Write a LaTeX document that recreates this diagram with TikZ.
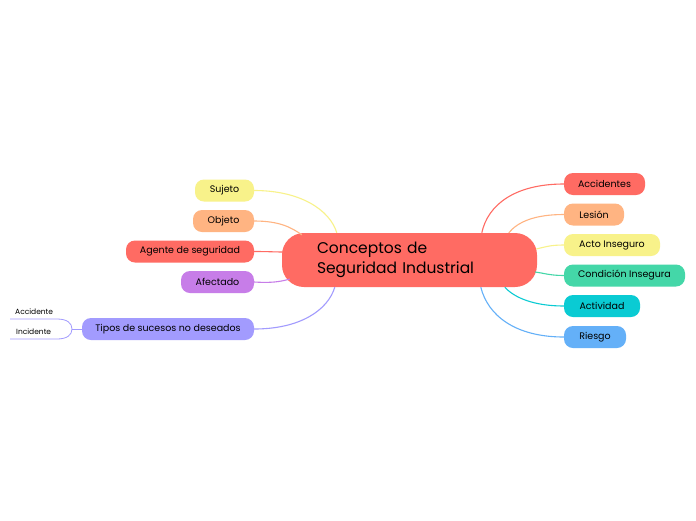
\documentclass[tikz,border=0pt]{standalone}
\usepackage{fontspec}
\setmainfont{Poppins}
\usetikzlibrary{calc}
\definecolor{cred}{HTML}{FF6B63}
\definecolor{cyel}{HTML}{F8F28A}
\definecolor{corg}{HTML}{FFB482}
\definecolor{cpur}{HTML}{C77DE8}
\definecolor{clav}{HTML}{A29BFE}
\definecolor{cgrn}{HTML}{44D7A8}
\definecolor{ccya}{HTML}{0ACBD3}
\definecolor{cblu}{HTML}{64B0F8}
\begin{document}
\begin{tikzpicture}[x=1pt,y=-1pt,
  topic/.style={fill=#1,draw=none,rounded corners=9pt,minimum height=22pt,inner sep=0pt,font=\fontsize{9.5}{11}\selectfont,text=black},
  link/.style={draw=#1,line width=1.1pt}]
\useasboundingbox[fill=white] (0,0) rectangle (696,520);
% central
\node[fill=cred,rounded corners=22pt,minimum height=54pt,inner xsep=35pt,inner ysep=0pt,text width=185pt,align=left,font=\fontsize{15.5}{20}\selectfont] (c) at (409.5,260) {Conceptos de\\Seguridad Industrial};
% left
\node[topic=cyel,minimum width=59pt] (su) at (224.5,190.5) {Sujeto};
\node[topic=corg,minimum width=61pt] (ob) at (223.5,221) {Objeto};
\node[topic=cred,minimum width=128pt] (ag) at (190,251.5) {Agente de seguridad};
\node[topic=cpur,minimum width=73pt] (af) at (217.5,282) {Afectado};
\node[topic=clav,minimum width=172pt] (ti) at (168,329) {Tipos de sucesos no deseados};
% right
\node[topic=cred,minimum width=81pt] (ac) at (604.5,184) {Accidentes};
\node[topic=corg,minimum width=60pt] (le) at (594,214.5) {Lesión};
\node[topic=cyel,minimum width=96pt] (ai) at (612,245) {Acto Inseguro};
\node[topic=cgrn,minimum width=121pt] (ci) at (624.5,275.5) {Condición Insegura};
\node[topic=ccya,minimum width=76pt] (at) at (602,306) {Actividad};
\node[topic=cblu,minimum width=62pt] (ri) at (595,337) {Riesgo};
% connector end coordinates on central node
\coordinate (csu) at ($(c.north west)+(55,0)$);
\coordinate (cob) at ($(c.north west)+(20,2)$);
\coordinate (cag) at ($(c.west)+(1,-8)$);
\coordinate (caf) at ($(c.west)+(8,19)$);
\coordinate (cti) at ($(c.south west)+(53,0)$);
\coordinate (cac) at ($(c.north west)+(200,0)$);
\coordinate (cle) at ($(c.north west)+(227,0)$);
\coordinate (cai) at ($(c.east)+(-1,-11)$);
\coordinate (cci) at ($(c.east)+(-2,12)$);
\coordinate (cat) at ($(c.south west)+(223,0)$);
\coordinate (cri) at ($(c.south west)+(199,0)$);
\draw[link=cyel] (su.east) .. controls +(46,0) and +(-7,-23) .. (csu);
\draw[link=corg] (ob.east) .. controls +(26,0) and +(-10,-7) .. (cob);
\draw[link=cred] (ag.east) .. controls +(14,0) and +(-8,0) .. (cag);
\draw[link=cpur] (af.east) .. controls +(16,1) and +(-10,3) .. (caf);
\draw[link=clav] (ti.east) .. controls +(46,0) and +(-7,23) .. (cti);
\draw[link=cred] (ac.west) .. controls +(-49,0) and +(6,-28) .. (cac);
\draw[link=corg] (le.west) .. controls +(-29,0) and +(9,-11) .. (cle);
\draw[link=cyel] (ai.west) .. controls +(-14,0) and +(9,-2) .. (cai);
\draw[link=cgrn] (ci.west) .. controls +(-14,0) and +(8,1) .. (cci);
\draw[link=ccya] (at.west) .. controls +(-29,0) and +(10,11) .. (cat);
\draw[link=cblu] (ri.west) .. controls +(-49,0) and +(7,28) .. (cri);
% sub items
\node[font=\fontsize{7.5}{9}\selectfont,anchor=west,inner sep=0pt] (acc) at (15,311.5) {Accidente};
\node[font=\fontsize{7.5}{9}\selectfont,anchor=west,inner sep=0pt] (inc) at (16,331.5) {Incidente};
\coordinate (br) at (72,329);
\coordinate (l1) at (10,319);
\coordinate (l2) at (10,339);
\draw[clav,line width=0.8pt] (l1) -- (57,319) .. controls (67,319) and (72,323) .. (br) .. controls (72,335) and (67,339) .. (57,339) -- (l2);
\draw[clav,line width=0.8pt] (br) -- (ti.west);
\end{tikzpicture}
\end{document}
